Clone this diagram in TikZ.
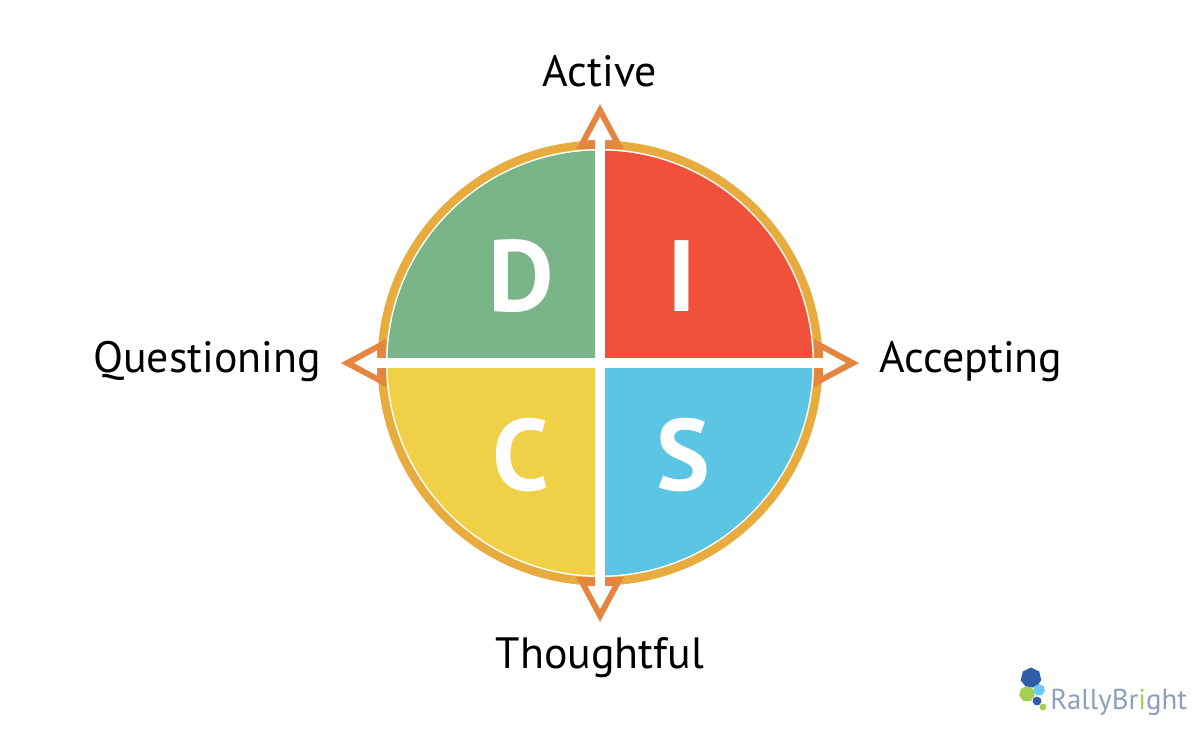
\documentclass[tikz,border=0pt]{standalone}
\usepackage{fontspec}
\setmainfont{PT Sans}
\usetikzlibrary{shapes}
\usetikzlibrary{shapes.geometric}
\definecolor{disc_green}{HTML}{7AB58A}
\definecolor{disc_red}{HTML}{F1503B}
\definecolor{disc_yellow}{HTML}{EFD047}
\definecolor{disc_blue}{HTML}{5BC5E3}
\definecolor{disc_ring}{HTML}{E8AC3E}
\definecolor{disc_arrow}{HTML}{E5853F}
\definecolor{logo_navy}{HTML}{2F5DA8}
\definecolor{logo_sky}{HTML}{6CC8F5}
\definecolor{logo_lime}{HTML}{A4CF52}
\definecolor{logo_text}{HTML}{8C9FBC}
\tikzset{
	node_axis/.style = {
		align=center,
		inner sep=0pt,
		text=black,
		font=\fontsize{31.2}{32}\selectfont
	},
	node_letter/.style = {
		align=center,
		inner sep=0pt,
		text=white,
		font=\fontsize{72}{72}\selectfont\bfseries
	},
	node_hex/.style = {
		regular polygon,
		regular polygon sides=7,
		inner sep=0pt
	},
	node_logo/.style = {
		inner sep=0pt,
		text=logo_text,
		font=\fontsize{20.5}{20.5}\selectfont
	},
}
\begin{document}
\begin{tikzpicture}[x=0.025cm,y=-0.025cm]
\useasboundingbox (0,0) rectangle (1200,732);
\coordinate (centre) at (600,363);
% ring and arrows
\draw [disc_ring, line width=9*0.7115pt] (centre) circle (218);
\foreach \ang in {0,90,180,270} {
	\begin{scope}[rotate around={\ang:(centre)}]
		\fill [disc_arrow] (600,104) -- (624,149) -- (576,149) -- cycle;
		\fill [white] (600,117) -- (612.5,140) -- (587.5,140) -- cycle;
	\end{scope}
}
% quadrants
\fill [white] (centre) circle (214);
\fill [disc_green] (centre) -- (387.5,363) arc (180:270:212.5) -- cycle;
\fill [disc_red] (centre) -- (600,150.5) arc (270:360:212.5) -- cycle;
\fill [disc_blue] (centre) -- (812.5,363) arc (0:90:212.5) -- cycle;
\fill [disc_yellow] (centre) -- (600,575.5) arc (90:180:212.5) -- cycle;
\fill [white] (595,140) rectangle (605,586);
\fill [white] (377,358) rectangle (823,368);
% letters
\node [node_letter] (letter_d) at (521,276) {D};
\node [node_letter] (letter_i) at (682,276) {I};
\node [node_letter] (letter_c) at (521,455) {C};
\node [node_letter] (letter_s) at (683,455) {S};
% axis labels
\node [node_axis] (label_active) at (600,71) {Active};
\node [node_axis] (label_questioning) at (207,362) {Questioning};
\node [node_axis] (label_accepting) at (971,362) {Accepting};
\node [node_axis] (label_thoughtful) at (600,658) {Thoughtful};
% logo
\node [node_hex, fill=logo_navy, minimum size=21*0.7115pt] (hex_big) at (1031,678) {};
\node [node_hex, fill=logo_sky, minimum size=12*0.7115pt] (hex_sky) at (1039,690) {};
\node [node_hex, fill=logo_lime, minimum size=16*0.7115pt] (hex_lime) at (1027,694) {};
\node [node_hex, fill=logo_navy, minimum size=9*0.7115pt] (hex_small) at (1037,701) {};
\node [node_hex, fill=logo_lime, minimum size=7*0.7115pt] (hex_dot) at (1043,707) {};
\node [node_logo, anchor=west] (logo_name) at (1050,702) {RallyBr\textcolor{logo_lime}{i}ght};
\end{tikzpicture}
\end{document}
